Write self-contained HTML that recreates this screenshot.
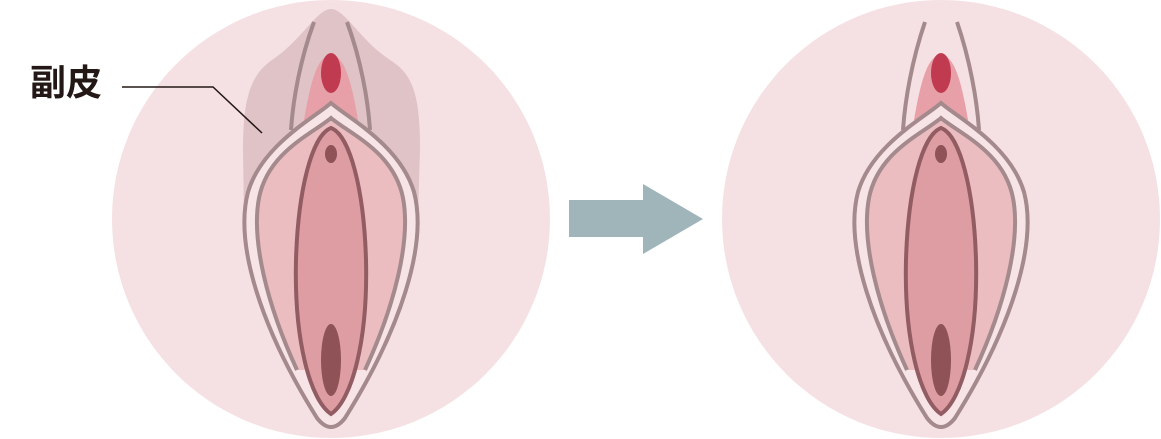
<!DOCTYPE html>
<html><head><meta charset="utf-8"><style>
html,body{margin:0;padding:0;background:#fff;width:1161px;height:439px;overflow:hidden}
svg{display:block}
</style></head><body>
<svg width="1161" height="439" viewBox="0 0 1161 439" xmlns="http://www.w3.org/2000/svg">
<defs>
<g id="body">
  <path d="M331,103 C348,118 400,145 414,192 C428,245 400,330 345,418 Q331,436 317,418 C262,330 234,245 248,192 C262,145 314,118 331,103Z" fill="#f7e4e7" stroke="#a48a8c" stroke-width="4"/>
  <path d="M331,118 C350,134 394,152 403,198 C411,240 395,305 365,370 L297,370 C267,305 251,240 259,198 C268,152 312,134 331,118Z" fill="#ebbcc0"/>
  <path d="M297,370 C267,305 251,240 259,198 C268,152 312,134 331,118 C350,134 394,152 403,198 C411,240 395,305 365,370" fill="none" stroke="#a48a8c" stroke-width="4"/>
  <path d="M331,128 C350,135 364,190 366,260 C368,340 352,400 331,414 C310,400 294,340 296,260 C298,190 312,135 331,128Z" fill="#de9da3" stroke="#925c63" stroke-width="4"/>
  <ellipse cx="331" cy="154" rx="6" ry="9" fill="#8e5257"/>
  <ellipse cx="331" cy="360" rx="10" ry="36" fill="#8e5257"/>
</g>
</defs>
<circle cx="331" cy="219" r="219" fill="#f5e1e4"/>
<circle cx="941" cy="219" r="219" fill="#f5e1e4"/>
<path d="M331,9 C345,9 360,40 390,60 C415,75 420,100 420,150 L418,215 L244,215 L243,150 C243,100 250,75 272,60 C302,40 317,9 331,9Z" fill="#dfc3c6"/>
<path d="M331,55 C345,55 352,85 358,120 L304,120 C310,85 317,55 331,55Z" fill="#e8a0a8"/>
<ellipse cx="331" cy="73" rx="10" ry="20" fill="#c03a50"/>
<path d="M314,22 C300,60 293,100 291,130" fill="none" stroke="#a48a8c" stroke-width="4"/>
<path d="M347,22 C361,60 368,100 370,130" fill="none" stroke="#a48a8c" stroke-width="4"/>
<use href="#body"/>
<path d="M941,55 C955,55 962,85 968,120 L914,120 C920,85 927,55 941,55Z" fill="#e8a0a8"/>
<ellipse cx="941" cy="73" rx="10" ry="20" fill="#c03a50"/>
<path d="M925,22 C912,60 905,100 903,130" fill="none" stroke="#a48a8c" stroke-width="4"/>
<path d="M957,22 C970,60 977,100 979,130" fill="none" stroke="#a48a8c" stroke-width="4"/>
<use href="#body" transform="translate(610,0)"/>
<rect x="569" y="200" width="76" height="37" fill="#9fb5ba"/>
<polygon points="643,184 703,219 643,254" fill="#9fb5ba"/>
<text x="30" y="95" font-family="'Liberation Sans','Noto Sans CJK JP',sans-serif" font-size="36" font-weight="bold" fill="#231815">副皮</text>
<polyline points="122,87 213,87 262,133" fill="none" stroke="#231815" stroke-width="1.5"/>
</svg>
</body></html>
